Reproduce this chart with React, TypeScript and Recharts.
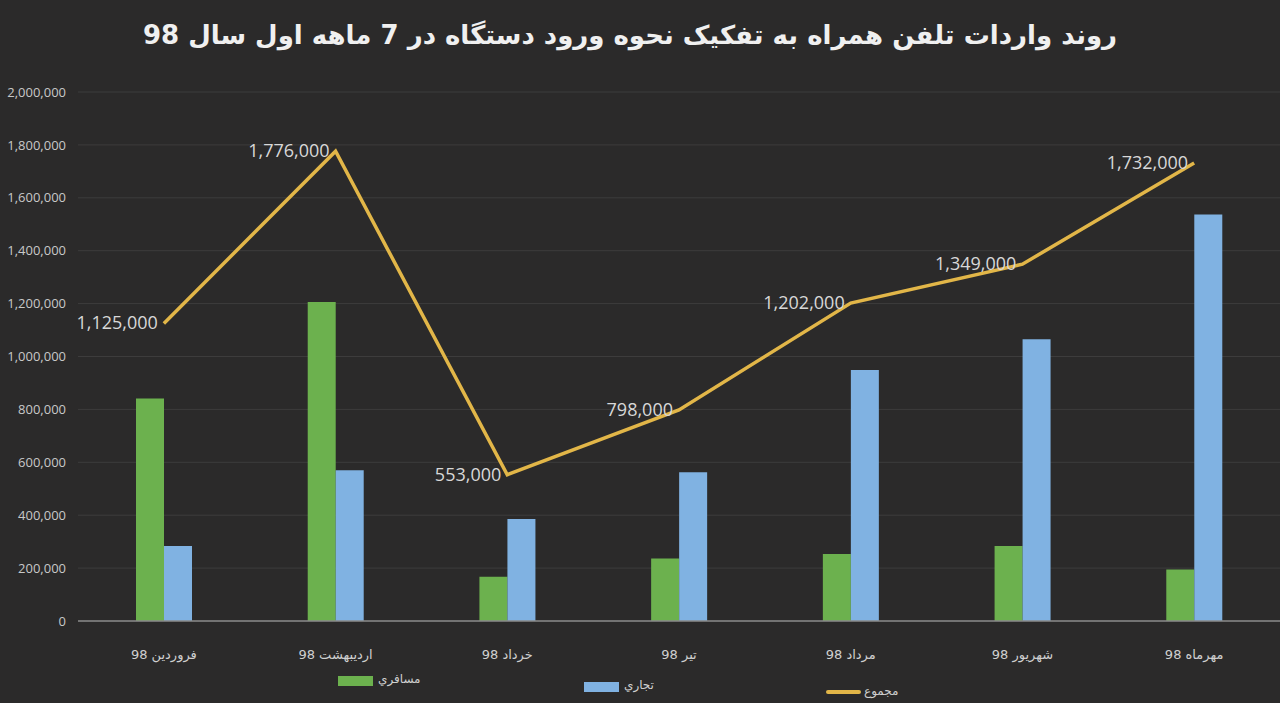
import React from 'react';
import { ComposedChart, Bar, Line, XAxis, YAxis, CartesianGrid, LabelList } from 'recharts';

const months = ['فروردین 98', 'اردیبهشت 98', 'خرداد 98', 'تیر 98', 'مرداد 98', 'شهریور 98', 'مهرماه 98'];
const passenger = [841000, 1206000, 167000, 236000, 253000, 284000, 195000];
const commercial = [284000, 570000, 386000, 562000, 949000, 1065000, 1537000];
const total = [1125000, 1776000, 553000, 798000, 1202000, 1349000, 1732000];
const yTicks = [0, 200000, 400000, 600000, 800000, 1000000, 1200000, 1400000, 1600000, 1800000, 2000000];

const data = months.map((m, i) => ({ month: m, passenger: passenger[i], commercial: commercial[i], total: total[i] }));

const fmt = (v: number) => v.toLocaleString('en-US');

const XTick = (props: any) => {
  const { x, y, payload } = props;
  return (
    <text x={x} y={y + 30} textAnchor="middle" direction="rtl" fill="#d0d0d0" fontSize={13} fontFamily="DejaVu Sans">
      {payload.value}
    </text>
  );
};

const LineLabel = (props: any) => {
  const { x, y, value } = props;
  return (
    <text x={x - 6} y={y + 6} textAnchor="end" fill="#d8d8d8" fontSize={18} fontFamily="Open Sans">
      {fmt(value)}
    </text>
  );
};

export default function App() {
  return (
    <div style={{ position: 'fixed', left: 0, top: 0, width: 1280, height: 703, background: '#2b2a2a', overflow: 'hidden' }}>
      <div dir="rtl" style={{ position: 'absolute', top: 20, left: 0, width: 1260, textAlign: 'center', color: '#f0f0f0', fontFamily: 'DejaVu Sans', fontWeight: 'bold', fontSize: 26 }}>
        روند واردات تلفن همراه به تفکیک نحوه ورود دستگاه در 7 ماهه اول سال 98
      </div>
      <div style={{ position: 'absolute', left: 0, top: 0 }}>
        <ComposedChart width={1280} height={703} data={data} margin={{ top: 92, right: 0, bottom: 52, left: 0 }} barGap={0} barSize={28}>
          <CartesianGrid vertical={false} stroke="#3d3c3c" />
          <XAxis dataKey="month" tick={<XTick />} tickLine={false} axisLine={{ stroke: '#8a8a8a', strokeWidth: 1.5 }} interval={0} />
          <YAxis domain={[0, 2000000]} ticks={yTicks} tickFormatter={fmt} width={78} tickSize={0} tickMargin={12} axisLine={false} tick={{ fill: '#c8c8c8', fontSize: 13, fontFamily: 'Open Sans' }} />
          <Bar dataKey="passenger" fill="#6cb14e" isAnimationActive={false} />
          <Bar dataKey="commercial" fill="#80b2e2" isAnimationActive={false} />
          <Line dataKey="total" stroke="#e2b648" strokeWidth={3.5} dot={false} isAnimationActive={false}>
            <LabelList dataKey="total" content={<LineLabel />} />
          </Line>
        </ComposedChart>
      </div>
      <div style={{ position: 'absolute', top: 672, left: 0, width: 1280, height: 30, fontFamily: 'DejaVu Sans', fontSize: 12, color: '#d0d0d0' }}>
        <div style={{ position: 'absolute', left: 338, top: 4, width: 35, height: 10, background: '#6cb14e' }} />
        <div dir="rtl" style={{ position: 'absolute', left: 378, top: 0 }}>مسافري</div>
        <div style={{ position: 'absolute', left: 584, top: 10, width: 35, height: 10, background: '#80b2e2' }} />
        <div dir="rtl" style={{ position: 'absolute', left: 624, top: 6 }}>تجاري</div>
        <div style={{ position: 'absolute', left: 826, top: 18, width: 35, height: 4, background: '#e2b648', borderRadius: 2 }} />
        <div dir="rtl" style={{ position: 'absolute', left: 864, top: 12 }}>مجموع</div>
      </div>
    </div>
  );
}
